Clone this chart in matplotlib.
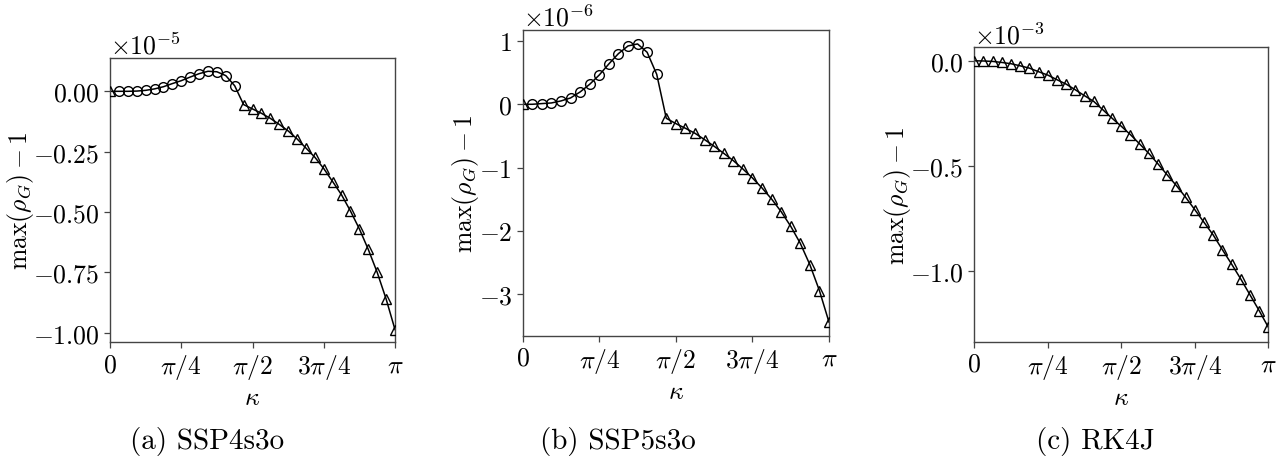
import matplotlib
matplotlib.use('Agg')
import matplotlib.pyplot as plt
import numpy as np

plt.rcParams['font.family'] = ['cmr10']
plt.rcParams['mathtext.fontset'] = 'cm'
plt.rcParams['axes.formatter.use_mathtext'] = True
plt.rcParams['axes.unicode_minus'] = True

# kappa grid: 33 samples from 0 to pi
n_k = np.arange(33)
kappa = n_k * np.pi / 32

# marker kind per sample ('o' circle, '^' triangle)
marks_ab = ['^'] + ['o'] * 14 + ['^'] * 18
marks_c = ['^'] * 33

# max(rho_G) - 1, SSP4s3o (x1e-5)
ssp4s3o = [0.000, 0.000, 0.000, 0.001, 0.004, 0.010, 0.019, 0.032, 0.044, 0.059, 0.073,
           0.083, 0.081, 0.065, 0.023, -0.055, -0.073, -0.091, -0.112, -0.137, -0.164,
           -0.197, -0.235, -0.273, -0.320, -0.374, -0.429, -0.496, -0.570, -0.655,
           -0.750, -0.860, -0.987]
# SSP5s3o (x1e-6)
ssp5s3o = [0.000, 0.000, 0.011, 0.021, 0.053, 0.100, 0.195, 0.316, 0.463, 0.637, 0.800,
           0.921, 0.953, 0.821, 0.474, -0.221, -0.305, -0.379, -0.458, -0.558, -0.663,
           -0.774, -0.889, -1.021, -1.163, -1.321, -1.495, -1.695, -1.926, -2.195,
           -2.532, -2.942, -3.440]
# RK4J (x1e-3)
rk4j = [0.000, -0.001, -0.003, -0.008, -0.014, -0.024, -0.035, -0.052, -0.068, -0.090,
        -0.111, -0.138, -0.166, -0.193, -0.233, -0.273, -0.311, -0.351, -0.395, -0.440,
        -0.490, -0.542, -0.593, -0.648, -0.707, -0.767, -0.827, -0.897, -0.965, -1.036,
        -1.111, -1.186, -1.265]

panels = [
    (ssp4s3o, 1e-5, marks_ab, '(a) SSP4s3o', [0.0, -0.25, -0.5, -0.75, -1.0], (-1.0385, 0.138)),
    (ssp5s3o, 1e-6, marks_ab, '(b) SSP5s3o', [1, 0, -1, -2, -3], (-3.654, 1.173)),
    (rk4j, 1e-3, marks_c, '(c) RK4J', [0.0, -0.5, -1.0], (-1.334, 0.064)),
]

W, H = 1283, 464
# axes boxes in pixels: left, right, top, bottom
boxes = [(110, 395, 59, 343), (522.7, 829, 31, 336.7), (974.3, 1268.3, 48.3, 342.7)]
cap_x = [207, 618, 1095]

fig = plt.figure(figsize=(W / 100, H / 100), dpi=100)
fs = 18.5

for (vals, scale, marks, cap, yt, ylim), (l, r, t, b), cx in zip(panels, boxes, cap_x):
    ax = fig.add_axes([l / W, 1 - b / H, (r - l) / W, (b - t) / H])
    y = np.array(vals) * scale
    ax.plot(kappa, y, color='black', linewidth=1.1, zorder=2)
    for m in ['o', '^']:
        idx = [i for i, mk in enumerate(marks) if mk == m]
        if idx:
            ax.plot(kappa[idx], y[idx], linestyle='none', marker=m, markersize=7 if m == 'o' else 7.5,
                    markerfacecolor='none', markeredgecolor='black', markeredgewidth=1.0, zorder=3)
    ax.set_xlim(0, np.pi)
    ax.set_ylim(ylim[0] * scale, ylim[1] * scale)
    ax.set_xticks([0, np.pi / 4, np.pi / 2, 3 * np.pi / 4, np.pi])
    ax.set_xticklabels([r'$0$', r'$\pi/4$', r'$\pi/2$', r'$3\pi/4$', r'$\pi$'])
    ax.set_yticks(np.array(yt) * scale)
    ax.ticklabel_format(style='sci', axis='y', scilimits=(0, 0), useMathText=True)
    ax.tick_params(labelsize=fs, direction='out', length=4, width=0.9, color='#444444')
    ax.yaxis.get_offset_text().set_fontsize(fs)
    for s in ax.spines.values():
        s.set_color('#444444')
        s.set_linewidth(1.0)
    ax.set_xlabel(r'$\kappa$', fontsize=fs, labelpad=3)
    ax.set_ylabel(r'$\max(\rho_G)-1$', fontsize=fs, labelpad=-2)
    fig.text(cx / W, 1 - 442 / H, cap, fontsize=21, ha='center', va='center')

plt.savefig('out.png', dpi=100)
